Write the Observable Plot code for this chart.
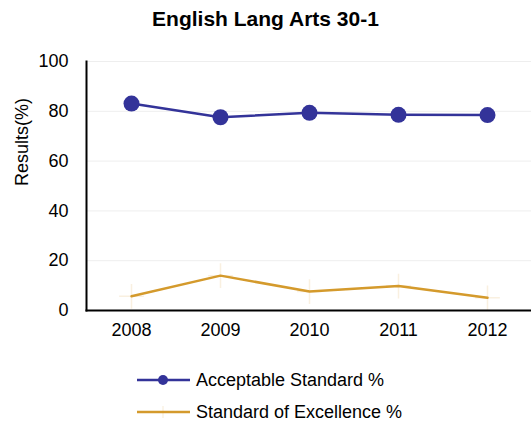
<!DOCTYPE html>
<html><head><meta charset="utf-8">
<script src="https://cdn.jsdelivr.net/npm/d3@7"></script>
<script src="https://cdn.jsdelivr.net/npm/@observablehq/plot@0.6"></script>
<style>
body{margin:0;background:#fff;font-family:"Liberation Sans",Arial,sans-serif;}
#title{height:40px;line-height:38px;text-align:center;font-weight:bold;font-size:21px;}
#legend{position:relative;height:83px;font-size:18px;}
.row{position:absolute;left:137px;height:20px;display:flex;align-items:center;}
.row svg{margin-right:6px;}
</style></head>
<body>
<div id="title">English Lang Arts 30-1</div>
<div id="chart"></div>
<div id="legend"></div>
<script>
const years = ["2008","2009","2010","2011","2012"];
const acceptable = [83.1, 77.6, 79.4, 78.6, 78.5];
const excellence = [5.7, 14.0, 7.6, 9.8, 5.1];
const yTicks = [0,20,40,60,80,100];
const seriesNames = ["Acceptable Standard %","Standard of Excellence %"];
const colors = ["#333399","#D49A2C"];

const accData = years.map((y,i)=>({year:y, value:acceptable[i]}));
const excData = years.map((y,i)=>({year:y, value:excellence[i]}));

const chart = Plot.plot({
  width: 531, height: 305,
  marginLeft: 86, marginRight: 0, marginTop: 21, marginBottom: 35,
  style: {fontSize: "18px", fontFamily: "'Liberation Sans', Arial, sans-serif", color: "#000"},
  x: {type: "point", domain: years, padding: 0.48, label: null},
  y: {domain: [0,100], ticks: yTicks, label: null},
  marks: [
    Plot.ruleY(yTicks.filter(d=>d>0), {stroke: "#eeeeee", strokeWidth: 1}),
    Plot.axisY({ticks: yTicks, tickSize: 0, tickPadding: 18, fontSize: 18, label: null}),
    Plot.axisX({tickSize: 0, tickPadding: 13, fontSize: 18, label: null}),
    Plot.text(["Results(%)"], {frameAnchor: "left", dx: -64, rotate: -90, fontSize: 18}),
    Plot.line(excData, {x: "year", y: "value", stroke: colors[1], strokeWidth: 2.5}),
    Plot.dot(excData, {x: "year", y: "value", symbol: "plus", r: 8, stroke: colors[1], strokeOpacity: 0.15, strokeWidth: 1.5}),
    Plot.line(accData, {x: "year", y: "value", stroke: colors[0], strokeWidth: 2.5}),
    Plot.dot(accData, {x: "year", y: "value", r: 8, fill: colors[0]}),
    Plot.frame({anchor: "left", stroke: "#000", strokeWidth: 2}),
    Plot.frame({anchor: "bottom", stroke: "#000", strokeWidth: 2})
  ]
});
document.getElementById("chart").appendChild(chart);

const legend = document.getElementById("legend");
seriesNames.forEach((name,i)=>{
  const row = document.createElement("div");
  row.className = "row";
  row.style.top = (i===0 ? 25 : 57) + "px";
  const marker = i===0
    ? `<circle cx="26" cy="10" r="5" fill="${colors[0]}"/>`
    : `<path d="M26,4V16M20,10H32" stroke="${colors[1]}" stroke-opacity="0.2"/>`;
  row.innerHTML = `<svg width="53" height="20"><line x1="0" x2="53" y1="10" y2="10" stroke="${colors[i]}" stroke-width="2.5"/>${marker}</svg><span>${name}</span>`;
  legend.appendChild(row);
});
</script>
</body></html>
